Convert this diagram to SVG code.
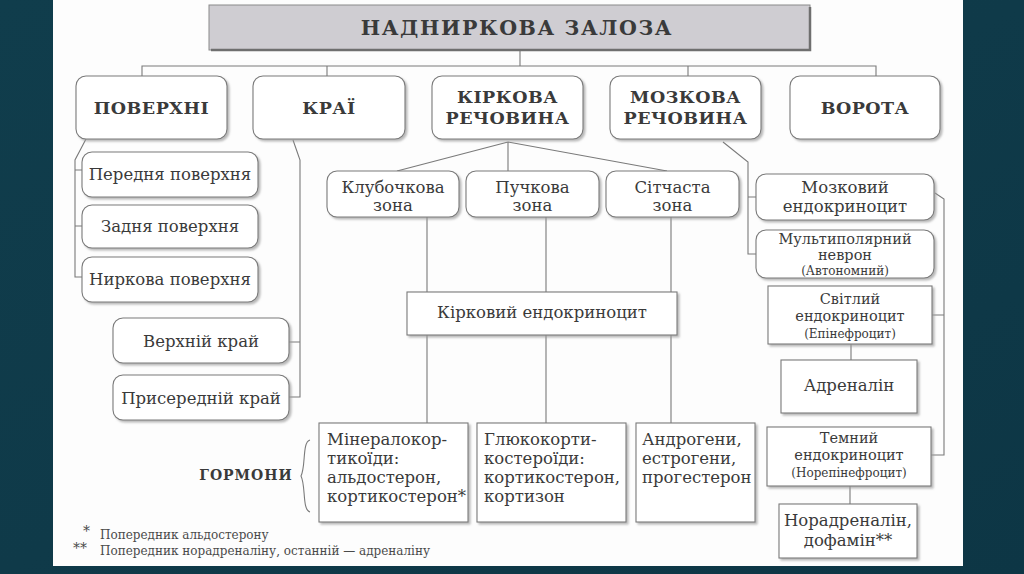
<svg xmlns="http://www.w3.org/2000/svg" width="1024" height="574" viewBox="0 0 1024 574">
<defs>
<linearGradient id="bg" x1="0" y1="0" x2="1" y2="1">
<stop offset="0" stop-color="#103d4c"/>
<stop offset="0.5" stop-color="#0f3a49"/>
<stop offset="1" stop-color="#0d3645"/>
</linearGradient>
<filter id="sh" x="-5%" y="-5%" width="112%" height="120%">
<feDropShadow dx="2" dy="2" stdDeviation="0.8" flood-color="#9a9a9a" flood-opacity="0.7"/>
</filter>
<style>
.box{fill:#ffffff;stroke:#7a7a7a;stroke-width:1.1;filter:url(#sh)}
.ln{fill:none;stroke:#7a7a7a;stroke-width:1.1}
.t{font-family:"DejaVu Serif","Liberation Serif",serif;font-size:16.5px;fill:#3a3a3a;text-anchor:middle}
.tm{font-family:"DejaVu Serif","Liberation Serif",serif;font-size:14.5px;fill:#3a3a3a;text-anchor:middle}
.tl{font-family:"DejaVu Serif","Liberation Serif",serif;font-size:16.5px;fill:#3a3a3a}
.s{font-family:"DejaVu Serif","Liberation Serif",serif;font-size:12px;fill:#3a3a3a;text-anchor:middle}
.h{font-family:"DejaVu Serif","Liberation Serif",serif;font-size:17.5px;font-weight:bold;fill:#3a3a3a;text-anchor:middle;letter-spacing:0.5px}
.fn{font-family:"DejaVu Serif","Liberation Serif",serif;font-size:12px;fill:#4a4a4a}
</style>
</defs>
<rect width="1024" height="574" fill="url(#bg)"/>
<rect x="53" y="0" width="910" height="566" fill="#fdfdfd"/>

<g id="connectors">
<path class="ln" d="M142 76 V66 H876 V76 M327 66 V76 M688 66 V76 M520 51 V66"/>
<path class="ln" d="M86 139 L75 160 V277 H82 M75 170 H82 M75 226 H82"/>
<path class="ln" d="M293 140 L300 160 V397 H289 M300 342 H289"/>
<path class="ln" d="M508 142 L397 171 M508 142 V171 M508 142 L667 171"/>
<path class="ln" d="M427 217 V292 M546 217 V292 M671 217 V292"/>
<path class="ln" d="M427 335 V423 M546 335 V423 M671 335 V423"/>
<path class="ln" d="M723 142 L748 162 V254 H756 M748 197 H756"/>
<path class="ln" d="M935 193 L944 199 V455 H931 M944 315 H932"/>
<path class="ln" d="M851 344 V360 M850 486 V504"/>
<path class="ln" d="M310 440 C302 442 306 466 301 476 C306 486 302 510 310 512" stroke="#b5b5b5" stroke-width="1.6"/>
</g>

<g id="title">
<rect x="209" y="5" width="601" height="45" fill="#cfcdd2" stroke="#8a8a8a" stroke-width="1"/>
<path d="M211 50 H810 V7" fill="none" stroke="#6f6f6f" stroke-width="2.5"/>
<text x="517" y="35" class="h" style="font-size:20.5px;letter-spacing:1.6px">НАДНИРКОВА ЗАЛОЗА</text>
</g>

<g id="poverkhni"><rect class="box" x="76" y="76" width="151" height="63" rx="10"/><text class="h" x="151.5" y="114">ПОВЕРХНІ</text></g>
<g id="krai"><rect class="box" x="253" y="76" width="152" height="63" rx="10"/><text class="h" x="329" y="114">КРАЇ</text></g>
<g id="kirkova"><rect class="box" x="432" y="76" width="151" height="63" rx="10"/><text class="h" x="507.5" y="103">КІРКОВА</text><text class="h" x="507.5" y="124">РЕЧОВИНА</text></g>
<g id="mozkova"><rect class="box" x="610" y="76" width="151" height="63" rx="10"/><text class="h" x="685.5" y="103">МОЗКОВА</text><text class="h" x="685.5" y="124">РЕЧОВИНА</text></g>
<g id="vorota"><rect class="box" x="790" y="76" width="150" height="63" rx="10"/><text class="h" x="865" y="114">ВОРОТА</text></g>

<g id="perednia"><rect class="box" x="82" y="152" width="176" height="45" rx="10"/><text class="t" x="170" y="180">Передня поверхня</text></g>
<g id="zadnia"><rect class="box" x="82" y="205" width="176" height="43" rx="10"/><text class="t" x="170" y="232">Задня поверхня</text></g>
<g id="nyrkova"><rect class="box" x="82" y="257" width="176" height="45" rx="10"/><text class="t" x="170" y="285">Ниркова поверхня</text></g>
<g id="verkhnii"><rect class="box" x="113" y="318" width="176" height="45" rx="10"/><text class="t" x="201" y="347">Верхній край</text></g>
<g id="poseredni"><rect class="box" x="113" y="375" width="176" height="45" rx="10"/><text class="t" x="201" y="404">Присередній край</text></g>

<g id="klubochkova"><rect class="box" x="327" y="171" width="132" height="46" rx="10"/><text class="t" x="393" y="193">Клубочкова</text><text class="t" x="393" y="211">зона</text></g>
<g id="puchkova"><rect class="box" x="466" y="171" width="133" height="46" rx="10"/><text class="t" x="532.5" y="193">Пучкова</text><text class="t" x="532.5" y="211">зона</text></g>
<g id="sitchasta"><rect class="box" x="606" y="171" width="133" height="46" rx="10"/><text class="t" x="672.5" y="193">Сітчаста</text><text class="t" x="672.5" y="211">зона</text></g>

<g id="kirkovyi-endo"><rect class="box" x="407" y="292" width="270" height="43"/><text class="t" x="542" y="318">Кірковий ендокриноцит</text></g>

<g id="mineralo"><rect class="box" x="319" y="423" width="149" height="99"/>
<text class="tl" x="327" y="445">Мінералокор-</text><text class="tl" x="327" y="464">тикоїди:</text><text class="tl" x="327" y="483">альдостерон,</text><text class="tl" x="327" y="502">кортикостерон*</text></g>
<g id="gluko"><rect class="box" x="477" y="423" width="149" height="99"/>
<text class="tl" x="484" y="445">Глюкокорти-</text><text class="tl" x="484" y="464">костероїди:</text><text class="tl" x="484" y="483">кортикостерон,</text><text class="tl" x="484" y="502">кортизон</text></g>
<g id="androgeny"><rect class="box" x="636" y="423" width="119" height="99"/>
<text class="tl" x="642" y="445">Андрогени,</text><text class="tl" x="642" y="464">естрогени,</text><text class="tl" x="642" y="483">прогестерон</text></g>

<g id="hormony"><text class="h" x="246" y="480" style="font-size:14px;letter-spacing:1px">ГОРМОНИ</text></g>

<g id="mozkovyi-endo"><rect class="box" x="756" y="174" width="178" height="46" rx="10"/><text class="t" x="845" y="193">Мозковий</text><text class="t" x="845" y="212">ендокриноцит</text></g>
<g id="neuron"><rect class="box" x="756" y="230" width="178" height="48" rx="10"/><text class="tm" x="845" y="244">Мультиполярний</text><text class="tm" x="845" y="260">неврон</text><text class="s" x="845" y="275">(Автономний)</text></g>
<g id="svitlyi"><rect class="box" x="768" y="286" width="164" height="58"/><text class="tm" x="850" y="304">Світлий</text><text class="tm" x="850" y="321">ендокриноцит</text><text class="s" x="850" y="338">(Епінефроцит)</text></g>
<g id="adrenalin"><rect class="box" x="781" y="360" width="136" height="53"/><text class="t" x="849" y="391">Адреналін</text></g>
<g id="temnyi"><rect class="box" x="767" y="427" width="164" height="59"/><text class="tm" x="849" y="443">Темний</text><text class="tm" x="849" y="460">ендокриноцит</text><text class="s" x="849" y="477">(Норепінефроцит)</text></g>
<g id="noradrenalin"><rect class="box" x="779" y="504" width="138" height="54"/><text class="t" x="848" y="526">Норадреналін,</text><text class="t" x="848" y="546">дофамін**</text></g>

<g id="footnotes">
<text class="fn" x="83" y="536" style="font-size:14px">*</text>
<text class="fn" x="100" y="539">Попередник альдостерону</text>
<text class="fn" x="73" y="553" style="font-size:14px">**</text>
<text class="fn" x="100" y="555">Попередник норадреналіну, останній — адреналіну</text>
</g>
</svg>
